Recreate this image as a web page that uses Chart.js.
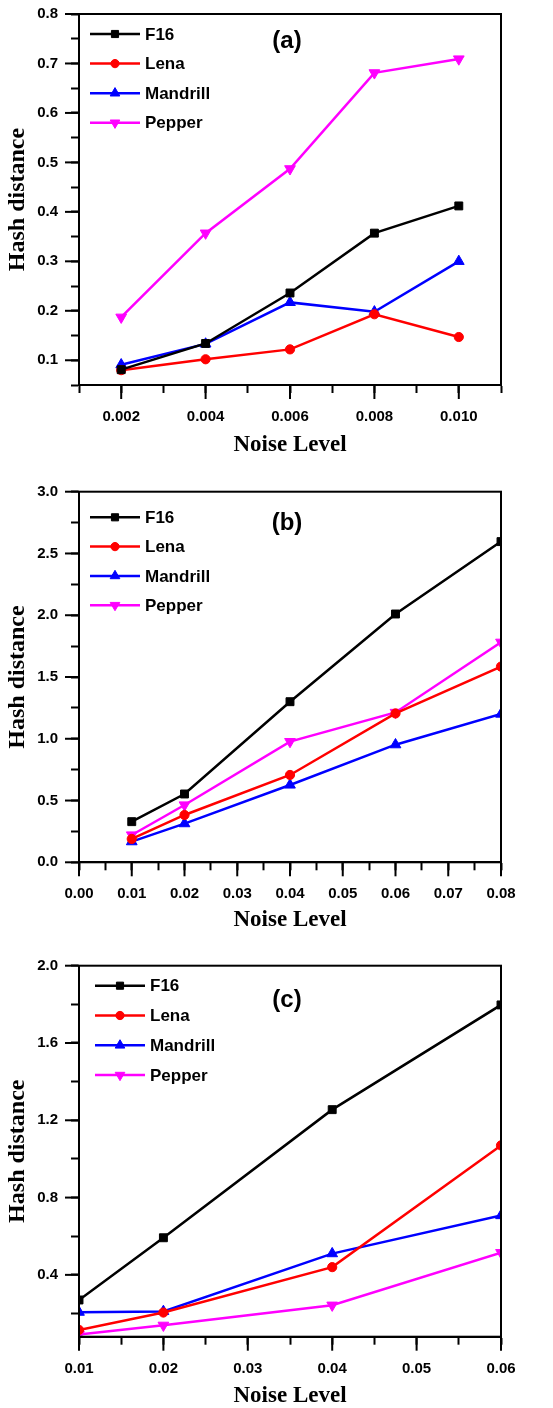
<!DOCTYPE html>
<html><head><meta charset="utf-8">
<script src="https://cdn.jsdelivr.net/npm/chart.js@4.4.1/dist/chart.umd.min.js"></script>
<style>
html,body{margin:0;padding:0;background:#fff;}
#wrap{position:relative;width:553px;height:1408px;background:#fff;}
canvas{position:absolute;left:0;}
</style></head><body>
<div id="wrap">
<canvas id="ca" width="553" height="460" style="top:0px"></canvas>
<canvas id="cb" width="553" height="480" style="top:460px"></canvas>
<canvas id="cc" width="553" height="468" style="top:940px"></canvas>
</div>
<script>
// ---------- data ----------
const seriesNames = ['F16', 'Lena', 'Mandrill', 'Pepper'];
const seriesColors = ['#000000', '#ff0000', '#0000ff', '#ff00ff'];
const seriesMarkers = ['rect', 'circle', 'triangle', 'triangle'];
const seriesRotation = [0, 0, 0, 180];

// panel (a)
const noiseA = [0.002, 0.004, 0.006, 0.008, 0.010];
const f16A = [0.081, 0.134, 0.236, 0.357, 0.412];
const lenaA = [0.080, 0.102, 0.122, 0.193, 0.147];
const mandrillA = [0.091, 0.133, 0.217, 0.198, 0.300];
const pepperA = [0.187, 0.357, 0.487, 0.681, 0.709];
const xTicksA = ['0.002', '0.004', '0.006', '0.008', '0.010'];
const yTicksA = ['0.1', '0.2', '0.3', '0.4', '0.5', '0.6', '0.7', '0.8'];

// panel (b)
const noiseB = [0.01, 0.02, 0.04, 0.06, 0.08];
const f16B = [0.329, 0.553, 1.30, 2.01, 2.596];
const lenaB = [0.189, 0.383, 0.707, 1.205, 1.584];
const mandrillB = [0.167, 0.313, 0.626, 0.952, 1.20];
const pepperB = [0.221, 0.464, 0.977, 1.213, 1.781];
const xTicksB = ['0.00', '0.01', '0.02', '0.03', '0.04', '0.05', '0.06', '0.07', '0.08'];
const yTicksB = ['0.0', '0.5', '1.0', '1.5', '2.0', '2.5', '3.0'];

// panel (c)
const noiseC = [0.01, 0.02, 0.04, 0.06];
const f16C = [0.270, 0.592, 1.255, 1.797];
const lenaC = [0.115, 0.205, 0.440, 1.070];
const mandrillC = [0.207, 0.211, 0.510, 0.707];
const pepperC = [0.091, 0.139, 0.243, 0.515];
const xTicksC = ['0.01', '0.02', '0.03', '0.04', '0.05', '0.06'];
const yTicksC = ['0.4', '0.8', '1.2', '1.6', '2.0'];

// ---------- helpers ----------
function makeDatasets(xs, ys) {
  return ys.map((vals, i) => ({
    label: seriesNames[i],
    data: xs.map((x, k) => ({ x: x, y: vals[k] })),
    showLine: true,
    borderColor: seriesColors[i],
    backgroundColor: seriesColors[i],
    borderWidth: 2.5,
    pointStyle: seriesMarkers[i],
    pointRotation: seriesRotation[i],
    pointRadius: seriesMarkers[i] === 'circle' ? 4.6 : (seriesMarkers[i] === 'rect' ? 5.6 : 6.2),
    pointBorderWidth: 1,
    pointBorderColor: seriesColors[i],
    pointBackgroundColor: seriesColors[i],
    clip: 0,
    tension: 0
  }));
}

function labeler(list, dec) {
  return function (v) {
    const s = Number(v).toFixed(dec);
    return (list.includes(s) && Math.abs(v - parseFloat(s)) < 1e-9) ? s : '';
  };
}

function drawMarker(ctx, style, rot, r, x, y, color) {
  ctx.save();
  ctx.fillStyle = color; ctx.strokeStyle = color; ctx.lineWidth = 1;
  ctx.beginPath();
  if (style === 'rect') {
    const s = Math.SQRT1_2 * r;
    ctx.rect(x - s, y - s, 2 * s, 2 * s);
  } else if (style === 'circle') {
    ctx.arc(x, y, r, 0, Math.PI * 2);
  } else {
    let rad = rot * Math.PI / 180;
    const TT = 2 * Math.PI / 3;
    ctx.moveTo(x + Math.sin(rad) * r, y - Math.cos(rad) * r);
    rad += TT;
    ctx.lineTo(x + Math.sin(rad) * r, y - Math.cos(rad) * r);
    rad += TT;
    ctx.lineTo(x + Math.sin(rad) * r, y - Math.cos(rad) * r);
    ctx.closePath();
  }
  ctx.fill(); ctx.stroke();
  ctx.restore();
}

const panelPlugin = {
  id: 'panelDeco',
  afterDatasetsDraw(chart, args, opts) {
    const ctx = chart.ctx, a = chart.chartArea;
    ctx.save();
    // box
    ctx.strokeStyle = '#000'; ctx.lineWidth = 2;
    ctx.strokeRect(a.left, a.top, a.right - a.left, a.bottom - a.top);
    // major ticks (longer)
    ['x', 'y'].forEach(id => {
      const sc = chart.scales[id];
      sc.ticks.forEach((t, i) => {
        if (!t.label) return;
        const p = sc.getPixelForTick(i);
        ctx.beginPath();
        if (id === 'x') { ctx.moveTo(p, a.bottom); ctx.lineTo(p, a.bottom + opts.major); }
        else { ctx.moveTo(a.left, p); ctx.lineTo(a.left - opts.major, p); }
        ctx.stroke();
      });
    });
    // legend
    chart.data.datasets.forEach((ds, i) => {
      const y = a.top + opts.y0 + i * opts.dy;
      ctx.strokeStyle = ds.borderColor; ctx.lineWidth = 2.5;
      ctx.beginPath();
      ctx.moveTo(a.left + opts.x0, y); ctx.lineTo(a.left + opts.x1, y);
      ctx.stroke();
      drawMarker(ctx, ds.pointStyle, ds.pointRotation, ds.pointRadius * 0.9,
        a.left + (opts.x0 + opts.x1) / 2, y, ds.borderColor);
      ctx.fillStyle = '#000';
      ctx.font = 'bold 17px "Liberation Sans", Arial, sans-serif';
      ctx.textAlign = 'left'; ctx.textBaseline = 'middle';
      ctx.fillText(ds.label, a.left + opts.tx, y + 1);
    });
    // panel label
    ctx.fillStyle = '#000';
    ctx.font = 'bold 24px "Liberation Sans", Arial, sans-serif';
    ctx.textAlign = 'center'; ctx.textBaseline = 'middle';
    ctx.fillText(opts.label, a.left + opts.lx, a.top + opts.ly);
    ctx.restore();
  }
};

const tickFont = { family: '"Liberation Sans", Arial, sans-serif', size: 15, weight: 'bold' };

function makeChart(id, cfg) {
  const ctx = document.getElementById(id);
  return new Chart(ctx, {
    type: 'scatter',
    data: { datasets: makeDatasets(cfg.xs, cfg.ys) },
    options: {
      responsive: false,
      animation: false,
      devicePixelRatio: 1,
      layout: { padding: { left: 0, right: 52, top: cfg.top, bottom: 0 } },
      plugins: {
        legend: { display: false },
        tooltip: { enabled: false },
        panelDeco: cfg.deco
      },
      scales: {
        x: {
          type: 'linear', min: cfg.xmin, max: cfg.xmax,
          ticks: {
            stepSize: cfg.xstep, autoSkip: false, maxRotation: 0, minRotation: 0,
            padding: 15, color: '#000', font: tickFont,
            callback: labeler(cfg.xTicks, cfg.xdec)
          },
          grid: { display: true, drawOnChartArea: false, drawTicks: true, tickLength: 8, tickColor: '#000', tickWidth: 2 },
          border: { display: true, color: '#000', width: 2 },
          title: {
            display: true, text: 'Noise Level', color: '#000',
            font: { family: '"Liberation Serif", "Times New Roman", serif', size: 23, weight: 'bold' },
            padding: { top: 0, bottom: cfg.xtitlePad }
          },
          afterFit: s => { s.height = cfg.xh; s.paddingLeft = 0; s.paddingRight = 0; }
        },
        y: {
          type: 'linear', min: cfg.ymin, max: cfg.ymax,
          ticks: {
            stepSize: cfg.ystep, autoSkip: false, includeBounds: false,
            padding: 13, color: '#000', font: tickFont,
            callback: labeler(cfg.yTicks, 1)
          },
          grid: { display: true, drawOnChartArea: false, drawTicks: true, tickLength: 8, tickColor: '#000', tickWidth: 2 },
          border: { display: true, color: '#000', width: 2 },
          title: {
            display: true, text: 'Hash distance', color: '#000',
            font: { family: '"Liberation Serif", "Times New Roman", serif', size: 24, weight: 'bold' },
            padding: { top: 3.6, bottom: 0 }
          },
          afterFit: s => { s.width = 79; s.paddingTop = 0; s.paddingBottom = 0; }
        }
      }
    },
    plugins: [panelPlugin]
  });
}

makeChart('ca', {
  xs: noiseA, ys: [f16A, lenaA, mandrillA, pepperA],
  xmin: 0.001, xmax: 0.011, xstep: 0.001, xdec: 3, xTicks: xTicksA,
  ymin: 0.05, ymax: 0.8, ystep: 0.05, yTicks: yTicksA,
  top: 14, xh: 75, xtitlePad: 1.2,
  deco: { major: 14, x0: 11, x1: 61, tx: 66, y0: 20, dy: 29.6, label: '(a)', lx: 208, ly: 27 }
});

makeChart('cb', {
  xs: noiseB, ys: [f16B, lenaB, mandrillB, pepperB],
  xmin: 0, xmax: 0.08, xstep: 0.005, xdec: 2, xTicks: xTicksB,
  ymin: 0, ymax: 3.0, ystep: 0.25, yTicks: yTicksB,
  top: 31.7, xh: 77.7, xtitlePad: 6,
  deco: { major: 14, x0: 11, x1: 61, tx: 66, y0: 25.6, dy: 29.3, label: '(b)', lx: 208, ly: 31.6 }
});

makeChart('cc', {
  xs: noiseC, ys: [f16C, lenaC, mandrillC, pepperC],
  xmin: 0.01, xmax: 0.06, xstep: 0.005, xdec: 2, xTicks: xTicksC,
  ymin: 0.08, ymax: 2.0, ystep: 0.2, yTicks: yTicksC,
  top: 25.7, xh: 71.3, xtitlePad: -2,
  deco: { major: 14, x0: 16, x1: 66, tx: 71, y0: 20, dy: 29.8, label: '(c)', lx: 208, ly: 34.3 }
});
</script>
</body></html>
